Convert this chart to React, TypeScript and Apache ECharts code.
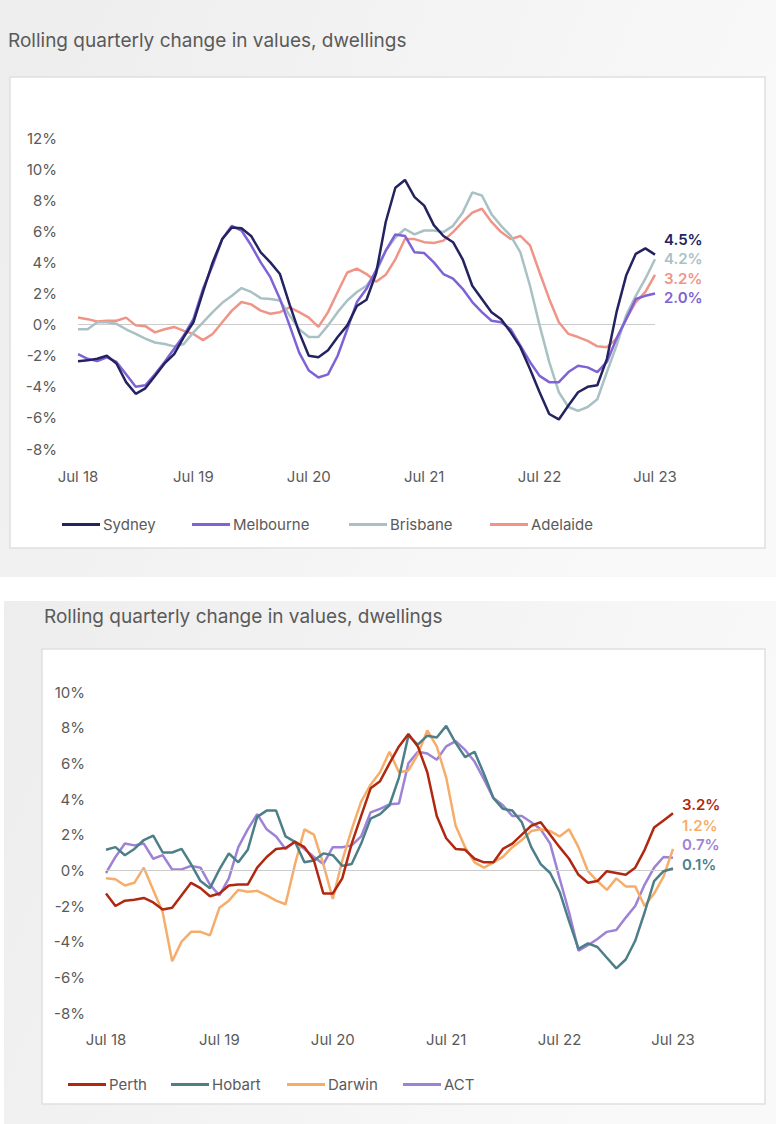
import React, { useEffect, useRef } from "react";
import * as echarts from "echarts";

const MONTH_NAMES = ["Jan", "Feb", "Mar", "Apr", "May", "Jun", "Jul", "Aug", "Sep", "Oct", "Nov", "Dec"];
// Monthly categories Jul 18 .. Jul 23
const START_YEAR = 2018;
const START_MONTH = 6; // July (0-based)
const N_MONTHS = 61;
const categories: string[] = [];
for (let i = 0; i < N_MONTHS; i++) {
  const mi = (START_MONTH + i) % 12;
  const yr = START_YEAR + Math.floor((START_MONTH + i) / 12);
  categories.push(MONTH_NAMES[mi] + " " + String(yr % 100).padStart(2, "0"));
}

const TITLE = "Rolling quarterly change in values, dwellings";

// Chart 1
const sydney = [-2.35, -2.3, -2.2, -2.0, -2.5, -3.7, -4.45, -4.1, -3.3, -2.5, -1.9, -0.8, 0.15, 2.1, 4.0, 5.5, 6.25, 6.2, 5.7, 4.65, 4.0, 3.25, 1.3, -0.5, -2.0, -2.1, -1.65, -0.8, -0.05, 1.2, 1.6, 3.3, 6.6, 8.8, 9.3, 8.2, 7.65, 6.4, 5.7, 5.3, 4.2, 2.5, 1.65, 0.8, 0.35, -0.5, -1.45, -2.85, -4.35, -5.75, -6.1, -5.2, -4.35, -4.0, -3.9, -2.2, 0.8, 3.15, 4.55, 4.9, 4.5];
const melbourne = [-1.9, -2.2, -2.35, -2.1, -2.4, -3.2, -4.0, -3.9, -3.2, -2.4, -1.55, -0.7, 0.35, 2.3, 3.8, 5.5, 6.35, 6.05, 5.1, 4.0, 3.05, 1.65, -0.05, -1.8, -2.95, -3.4, -3.2, -2.0, -0.3, 1.45, 2.3, 3.5, 4.75, 5.8, 5.7, 4.65, 4.6, 4.0, 3.25, 2.95, 2.3, 1.45, 0.8, 0.25, 0.15, -0.3, -1.35, -2.4, -3.3, -3.7, -3.7, -3.05, -2.65, -2.75, -3.05, -2.4, -0.9, 0.35, 1.65, 1.85, 2.0];
const brisbane = [-0.3, -0.3, 0.15, 0.15, 0.05, -0.3, -0.6, -0.9, -1.15, -1.25, -1.4, -1.25, -0.5, 0.15, 0.8, 1.4, 1.85, 2.35, 2.1, 1.7, 1.65, 1.55, 0.6, -0.3, -0.8, -0.8, -0.05, 0.8, 1.55, 2.1, 2.5, 3.35, 4.75, 5.6, 6.15, 5.8, 6.05, 6.05, 5.95, 6.35, 7.2, 8.5, 8.3, 7.1, 6.35, 5.7, 4.65, 2.5, -0.05, -2.4, -4.35, -5.3, -5.55, -5.3, -4.8, -3.05, -1.35, 0.6, 1.85, 2.95, 4.2];
const adelaide = [0.45, 0.35, 0.2, 0.25, 0.25, 0.45, -0.05, -0.1, -0.5, -0.3, -0.15, -0.4, -0.6, -1.0, -0.6, 0.15, 0.9, 1.45, 1.3, 0.9, 0.7, 0.8, 1.1, 0.8, 0.45, -0.15, 0.8, 2.1, 3.35, 3.6, 3.25, 2.75, 3.2, 4.2, 5.5, 5.5, 5.3, 5.25, 5.4, 5.95, 6.6, 7.2, 7.45, 6.6, 5.95, 5.5, 5.7, 5.1, 3.35, 1.65, 0.15, -0.6, -0.8, -1.05, -1.4, -1.45, -0.9, 0.35, 1.45, 2.1, 3.2];

// Chart 2
const perth = [-1.3, -2.0, -1.7, -1.65, -1.55, -1.8, -2.2, -2.1, -1.4, -0.7, -1.0, -1.45, -1.3, -0.85, -0.8, -0.8, 0.15, 0.75, 1.2, 1.25, 1.6, 1.3, 0.55, -1.3, -1.3, -0.45, 1.5, 3.05, 4.6, 5.0, 6.0, 6.95, 7.65, 6.95, 5.5, 3.05, 1.8, 1.2, 1.15, 0.65, 0.45, 0.45, 1.2, 1.5, 2.0, 2.5, 2.7, 2.0, 1.3, 0.65, -0.25, -0.7, -0.6, -0.05, -0.15, -0.25, 0.15, 1.15, 2.4, 2.8, 3.2];
const hobart = [1.15, 1.3, 0.85, 1.2, 1.7, 1.95, 1.0, 1.0, 1.2, 0.35, -0.6, -1.0, 0.05, 0.95, 0.45, 1.15, 3.0, 3.35, 3.35, 1.9, 1.6, 0.45, 0.55, 0.95, 0.85, 0.25, 0.35, 1.5, 2.9, 3.15, 3.65, 5.2, 7.55, 7.05, 7.55, 7.45, 8.1, 7.15, 6.35, 6.65, 5.4, 4.05, 3.45, 3.35, 2.7, 1.3, 0.35, -0.15, -1.2, -2.85, -4.4, -4.1, -4.3, -4.9, -5.5, -5.0, -3.95, -2.35, -0.6, -0.05, 0.1];
const darwin = [-0.45, -0.5, -0.85, -0.7, 0.15, -1.1, -2.35, -5.1, -4.0, -3.45, -3.45, -3.65, -2.1, -1.7, -1.1, -1.2, -1.15, -1.4, -1.7, -1.9, 0.35, 2.3, 2.0, 0.35, -1.6, 0.55, 2.3, 3.85, 4.8, 5.5, 6.65, 5.5, 5.6, 6.5, 7.85, 6.95, 5.2, 2.5, 1.3, 0.45, 0.15, 0.45, 0.75, 1.3, 1.7, 2.2, 2.3, 2.2, 1.9, 2.3, 1.3, -0.05, -0.6, -1.1, -0.45, -0.9, -0.9, -2.0, -1.3, -0.35, 1.2];
const act = [-0.15, 0.75, 1.5, 1.4, 1.5, 0.65, 0.85, 0.05, 0.05, 0.25, 0.15, -0.8, -1.4, -0.45, 1.3, 2.3, 3.15, 2.3, 1.9, 1.2, 1.6, 1.2, 0.75, 0.35, 1.3, 1.3, 1.4, 1.9, 3.25, 3.45, 3.7, 3.75, 6.0, 6.65, 6.55, 6.2, 6.95, 7.25, 6.75, 6.1, 5.1, 4.05, 3.65, 3.05, 3.05, 2.7, 2.3, 1.5, -0.45, -2.35, -4.5, -4.2, -3.85, -3.45, -3.35, -2.65, -2.0, -0.8, 0.15, 0.75, 0.7];

const FONT = "Inter, 'Noto Sans', sans-serif";
const TXT = "#5a5a5a";

type S = { name: string; data: number[]; color: string; dy: number; grid: number; legendLeft: number };
const SERIES: S[] = [
  { name: "Sydney", data: sydney, color: "#232360", dy: -15, grid: 0, legendLeft: 62 },
  { name: "Melbourne", data: melbourne, color: "#7f63d6", dy: 4, grid: 0, legendLeft: 192 },
  { name: "Brisbane", data: brisbane, color: "#a9c1c4", dy: -0.5, grid: 0, legendLeft: 349 },
  { name: "Adelaide", data: adelaide, color: "#ef9487", dy: 3.5, grid: 0, legendLeft: 490 },
  { name: "Perth", data: perth, color: "#b0280f", dy: -9, grid: 1, legendLeft: 68 },
  { name: "Hobart", data: hobart, color: "#4d7f88", dy: -4, grid: 1, legendLeft: 171 },
  { name: "Darwin", data: darwin, color: "#f6ad6a", dy: -23, grid: 1, legendLeft: 287 },
  { name: "ACT", data: act, color: "#9e82d6", dy: -13, grid: 1, legendLeft: 403 },
];

export default function App() {
  const ref = useRef<HTMLDivElement>(null);
  useEffect(() => {
    if (!ref.current) return;
    const chart = echarts.init(ref.current, null, { renderer: "svg" });
    const bgGrad = (c1: string, c2: string) =>
      new echarts.graphic.LinearGradient(0, 0, 1, 0.3, [
        { offset: 0, color: c1 },
        { offset: 1, color: c2 },
      ]);
    const xAxisBase = {
      type: "category",
      data: categories,
      boundaryGap: false,
      axisLine: { show: false },
      axisTick: { show: false },
      axisLabel: { interval: 11, color: TXT, fontSize: 15, fontFamily: FONT, margin: 20 },
      splitLine: { show: false },
    };
    const yAxisBase = {
      type: "value",
      interval: 2,
      axisLine: { show: false },
      axisTick: { show: false },
      splitLine: { show: false },
      axisLabel: { formatter: "{value}%", color: TXT, fontSize: 15, fontFamily: FONT, margin: 21 },
    };
    const option: any = {
      animation: false,
      graphic: [
        { type: "rect", z: -10, silent: true, shape: { x: 0, y: 0, width: 776, height: 577 }, style: { fill: bgGrad("#ededed", "#f9f9f9") } },
        { type: "rect", z: -10, silent: true, shape: { x: 4, y: 601, width: 772, height: 523 }, style: { fill: bgGrad("#ededed", "#f9f9f9") } },
        { type: "rect", z: -9, silent: true, shape: { x: 10, y: 77, width: 755, height: 471 }, style: { fill: "#ffffff", stroke: "#e0e0e0", lineWidth: 1.5 } },
        { type: "rect", z: -9, silent: true, shape: { x: 42, y: 649, width: 723, height: 455 }, style: { fill: "#ffffff", stroke: "#e0e0e0", lineWidth: 1.5 } },
        { type: "text", z: -8, silent: true, x: 8, y: 40, style: { text: TITLE, fill: TXT, fontSize: 19, fontFamily: FONT, verticalAlign: "middle" } },
        { type: "text", z: -8, silent: true, x: 44, y: 616, style: { text: TITLE, fill: TXT, fontSize: 19, fontFamily: FONT, verticalAlign: "middle" } },
      ],
      grid: [
        { left: 78, top: 138, width: 577, height: 311 },
        { left: 106, top: 692, width: 567, height: 321 },
      ],
      xAxis: [
        { ...xAxisBase, gridIndex: 0 },
        { ...xAxisBase, gridIndex: 1, axisLabel: { ...xAxisBase.axisLabel, margin: 19 } },
      ],
      yAxis: [
        { ...yAxisBase, gridIndex: 0, min: -8, max: 12 },
        { ...yAxisBase, gridIndex: 1, min: -8, max: 10 },
      ],
      legend: SERIES.map((s) => ({
        data: [s.name],
        left: s.legendLeft,
        top: s.grid === 0 ? 517 : 1077,
        padding: 0,
        icon: "rect",
        itemWidth: 38,
        itemHeight: 3,
        textStyle: { color: TXT, fontSize: 15, fontFamily: FONT, padding: [0, 0, 0, -2] },
      })),
      series: SERIES.map((s, i) => ({
        name: s.name,
        type: "line",
        xAxisIndex: s.grid,
        yAxisIndex: s.grid,
        data: s.data,
        symbol: "none",
        color: s.color,
        lineStyle: { width: 2.5, color: s.color },
        z: 10 - i,
        endLabel: {
          show: true,
          formatter: (p: any) => Number(p.value).toFixed(1) + "%",
          color: s.color,
          fontSize: 15,
          lineHeight: 14,
          fontWeight: 600,
          fontFamily: FONT,
          distance: 0,
          offset: [9, s.dy],
        },
        markLine:
          i === 0 || i === 4
            ? {
                silent: true,
                symbol: "none",
                label: { show: false },
                lineStyle: { color: "#cccccc", width: 1, type: "solid" },
                data: [{ yAxis: 0 }],
              }
            : undefined,
      })),
    };
    chart.setOption(option);
    return () => chart.dispose();
  }, []);
  return <div ref={ref} style={{ position: "absolute", left: 0, top: 0, width: 776, height: 1124 }} />;
}
